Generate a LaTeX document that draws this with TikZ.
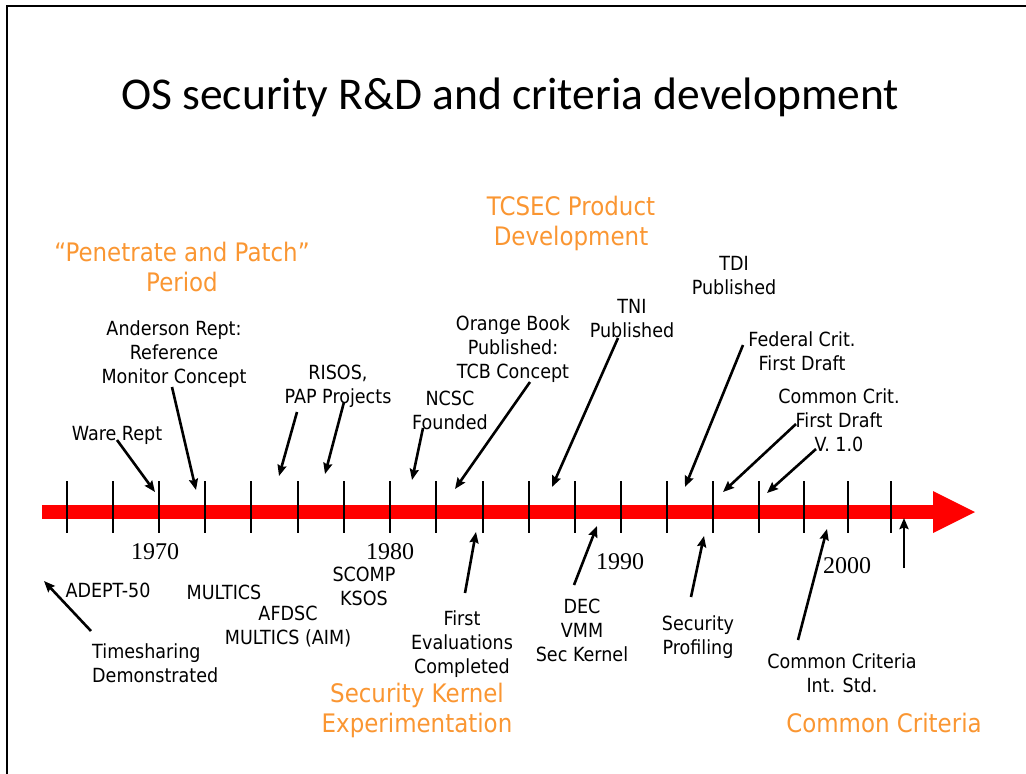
\documentclass[tikz,border=0pt]{standalone}
\usepackage{fontspec}
\usetikzlibrary{arrows.meta}
\newfontfamily\tahf[FakeStretch=0.9]{DejaVu Sans}
\newfontfamily\titlef{Carlito}
\newfontfamily\yearf{Liberation Serif}
\definecolor{phase}{RGB}{250,150,50}
\definecolor{barred}{RGB}{255,0,0}
\tikzset{
  lbl/.style={font=\tahf\fontsize{19.5}{24}\selectfont, align=center, inner sep=0pt, text=black},
  phaselbl/.style={font=\tahf\fontsize{25.5}{30}\selectfont, align=center, inner sep=0pt, text=phase},
  yearlbl/.style={font=\yearf\fontsize{24}{28}\selectfont, inner sep=0pt},
  tickline/.style={line width=2.6pt, black},
  ptr/.style={line width=2.6pt, black, -{Stealth[length=11pt,width=9pt,inset=1.5pt]}},
}
\begin{document}
\begin{tikzpicture}[x=1pt,y=-1pt]
\useasboundingbox (0,0) rectangle (1026,774);
% frame
\draw[line width=1.5pt] (7,774) -- (7,6) -- (1026,6);
% title
\node[font=\titlef\fontsize{45.5}{48}\selectfont, inner sep=0pt, anchor=base] (title) at (510,109) {OS security R\&D and criteria development};
% timeline bar
\fill[barred] (42,505) rectangle (933,519);
\fill[barred] (933,491) -- (975,512) -- (933,533) -- cycle;
\coordinate (barstart) at (42,512);
% ticks
\foreach \x [count=\i] in {67,113,159,205,251,298,344,390,436,483,529,575,621,667,713,759,804,848,891}
  \draw[tickline] (\x,481) -- (\x,533);
% years
\node[yearlbl] (y1970) at (155,552) {1970};
\node[yearlbl] (y1980) at (390,552) {1980};
\node[yearlbl] (y1990) at (620,562) {1990};
\node[yearlbl] (y2000) at (847,566) {2000};
% phase labels
\node[phaselbl] (penetrate) at (182,267) {“Penetrate and Patch”\\Period};
\node[phaselbl] (tcsec) at (571,223) {TCSEC Product\\Development};
\node[phaselbl] (seckernel) at (417,710) {Security Kernel\\Experimentation};
\node[phaselbl] (cc) at (884,723) {Common Criteria};
% upper labels
\node[lbl] (anderson) at (174,354) {Anderson Rept:\\Reference\\Monitor Concept};
\node[lbl] (ware) at (117,435) {Ware Rept};
\node[lbl] (risos) at (338,386) {RISOS,\\PAP Projects};
\node[lbl] (ncsc) at (450,410) {NCSC\\Founded};
\node[lbl] (orange) at (513,349) {Orange Book\\Published:\\TCB Concept};
\node[lbl] (tni) at (632,319) {TNI\\Published};
\node[lbl] (tdi) at (734,276) {TDI\\Published};
\node[lbl] (federal) at (802,351) {Federal Crit.\\First Draft};
\node[lbl] (commoncrit) at (839,420) {Common Crit.\\First Draft\\V. 1.0};
% lower labels
\node[lbl] (adept) at (108,590) {ADEPT-50};
\node[lbl] (multics) at (224,592) {MULTICS};
\node[lbl] (afdsc) at (288,627) {AFDSC\\MULTICS (AIM)};
\node[lbl] (scomp) at (364,586) {SCOMP\\KSOS};
\node[lbl, align=left, anchor=west] (timesharing) at (92,663) {Timesharing\\Demonstrated};
\node[lbl] (firsteval) at (462,644) {First\\Evaluations\\Completed};
\node[lbl] (dec) at (582,630) {DEC\\VMM\\Sec Kernel};
\node[lbl] (secprof) at (698,637) {Security\\Profiling};
\node[lbl] (ccstd) at (842,673) {Common Criteria\\Int. Std.};
% arrow end points
\coordinate (wareS) at (117,440);   \coordinate (wareT) at (155,492);
\coordinate (andS) at (172,387);    \coordinate (andT) at (196,490);
\coordinate (risAS) at (297,412);   \coordinate (risAT) at (279,476);
\coordinate (risBS) at (344,402);   \coordinate (risBT) at (325,474);
\coordinate (ncscS) at (423,428);   \coordinate (ncscT) at (412,480);
\coordinate (orS) at (530,382);     \coordinate (orT) at (455,489);
\coordinate (tniS) at (618,338);    \coordinate (tniT) at (552,487);
\coordinate (fedS) at (743,345);    \coordinate (fedT) at (685,487);
\coordinate (ccAS) at (796,424);    \coordinate (ccAT) at (723,492);
\coordinate (ccBS) at (816,449);    \coordinate (ccBT) at (767,493);
\coordinate (tsS) at (91,631);      \coordinate (tsT) at (44,581);
\coordinate (feS) at (465,593);     \coordinate (feT) at (476,532);
\coordinate (decS) at (574,585);    \coordinate (decT) at (597,526);
\coordinate (spS) at (691,597);     \coordinate (spT) at (704,536);
\coordinate (ccsS) at (798,640);    \coordinate (ccsT) at (827,529);
\coordinate (endS) at (904,568);    \coordinate (endT) at (904,518);
% arrows
\draw[ptr] (wareS) -- (wareT);
\draw[ptr] (andS) -- (andT);
\draw[ptr] (risAS) -- (risAT);
\draw[ptr] (risBS) -- (risBT);
\draw[ptr] (ncscS) -- (ncscT);
\draw[ptr] (orS) -- (orT);
\draw[ptr] (tniS) -- (tniT);
\draw[ptr] (fedS) -- (fedT);
\draw[ptr] (ccAS) -- (ccAT);
\draw[ptr] (ccBS) -- (ccBT);
\draw[ptr] (tsS) -- (tsT);
\draw[ptr] (feS) -- (feT);
\draw[ptr] (decS) -- (decT);
\draw[ptr] (spS) -- (spT);
\draw[ptr] (ccsS) -- (ccsT);
\draw[ptr] (endS) -- (endT);
\end{tikzpicture}
\end{document}
